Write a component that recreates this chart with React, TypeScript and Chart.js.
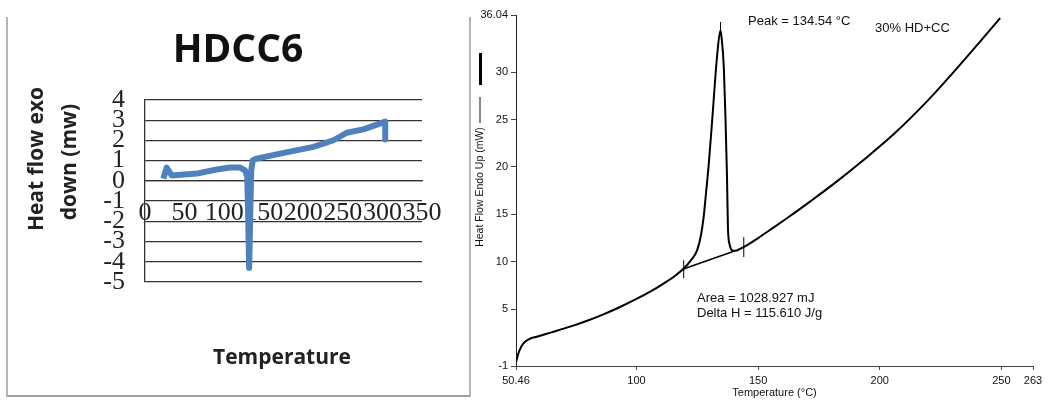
import React, { useEffect, useRef } from "react";
import { Chart, registerables } from "chart.js";

Chart.register(...registerables);

// ---------- Left panel: HDCC6 ----------
const hdccTitle = "HDCC6";
const hdccYTitle = ["Heat flow exo", "down (mw)"];
const hdccXTitle = "Temperature";
const hdccTemperature = [23.2, 27.4, 33.7, 65.3, 90.6, 107.5, 120.1, 126.4, 129.2, 130.5, 131.6, 132.8, 134.2, 136.1, 141.2, 170.7, 212.8, 238.1, 254.9, 276.0, 303.5, 303.5];
const hdccHeatFlow = [0.11, 0.66, 0.27, 0.36, 0.56, 0.66, 0.66, 0.52, 0.2, -2.0, -4.3, -2.0, 0.5, 1.02, 1.1, 1.35, 1.68, 2.01, 2.38, 2.55, 2.93, 2.05];
const hdccXTicks = [0, 50, 100, 150, 200, 250, 300, 350];
const hdccYTicks = [-5, -4, -3, -2, -1, 0, 1, 2, 3, 4];

// ---------- Right panel: DSC 30% HD+CC ----------
const dscTemperature = [50.5, 50.7, 51.8, 53.5, 56, 59, 65, 72.7, 80, 86.4, 93, 100.2, 106, 111.1, 115.5, 119.4, 122.5, 124.9, 126.5, 127.6, 128.3, 129.7, 131.1, 133.2, 134.5, 135.0, 135.9, 136.6, 137.2, 137.6, 138.3, 139.4, 140.8, 142.5, 144.4, 150, 155.1, 163, 171.6, 182, 192.2, 205.9, 219.7, 233.4, 249.5];
const dscHeatFlow = [-0.6, -0.37, 0.6, 1.39, 1.85, 2.09, 2.55, 3.15, 3.8, 4.45, 5.2, 6.1, 6.9, 7.7, 8.45, 9.28, 10.2, 11.2, 12.8, 14.7, 16.5, 20.3, 24.9, 31.9, 34.4, 33.6, 30.5, 25.0, 19.0, 13.5, 11.8, 11.2, 11.15, 11.35, 11.6, 12.5, 13.4, 14.8, 16.4, 18.4, 20.5, 23.5, 27.0, 30.9, 35.7];
const dscXTicks = [50.46, 100, 150, 200, 250, 263];
const dscXTickLabels = ["50.46", "100", "150", "200", "250", "263"];
const dscYTicks = [-1, 5, 10, 15, 20, 25, 30, 36.04];
const dscYTickLabels = ["-1", "5", "10", "15", "20", "25", "30", "36.04"];
const baselineTemperature = [118.7, 140.3];
const baselineHeatFlow = [9.18, 11.14];
const onsetMarkerTemperature = [119.4, 119.4];
const onsetMarkerHeatFlow = [8.26, 10.16];
const peakMarkerTemperature = [134.54, 134.54];
const peakMarkerHeatFlow = [34.2, 35.3];
const endMarkerTemperature = [144.1, 144.1];
const endMarkerHeatFlow = [10.5, 12.6];
const dscXTitle = "Temperature (°C)";
const dscYTitle = "Heat Flow Endo Up (mW)";
const dscPeakText = "Peak = 134.54 °C";
const dscSampleText = "30% HD+CC";
const dscAreaText = "Area = 1028.927 mJ";
const dscDeltaHText = "Delta H = 115.610 J/g";

type TextItem = { text: string; x: number; y: number; font: string; align?: CanvasTextAlign; rotate?: number; color?: string };
type StrokeItem = { x1: number; y1: number; x2: number; y2: number; width: number; color: string };

function makeTextPlugin(id: string, items: TextItem[], strokes: StrokeItem[]) {
  return {
    id,
    afterDraw(chart: any) {
      const ctx: CanvasRenderingContext2D = chart.ctx;
      strokes.forEach((s) => {
        ctx.save();
        ctx.strokeStyle = s.color;
        ctx.lineWidth = s.width;
        ctx.beginPath();
        ctx.moveTo(s.x1, s.y1);
        ctx.lineTo(s.x2, s.y2);
        ctx.stroke();
        ctx.restore();
      });
      items.forEach((it) => {
        ctx.save();
        ctx.font = it.font;
        ctx.fillStyle = it.color || "#000";
        ctx.textAlign = it.align || "center";
        ctx.textBaseline = "middle";
        ctx.translate(it.x, it.y);
        if (it.rotate) ctx.rotate(it.rotate);
        ctx.fillText(it.text, 0, 0);
        ctx.restore();
      });
    },
  };
}

const pts = (xs: number[], ys: number[]) => xs.map((x, i) => ({ x, y: ys[i] }));

function buildLeft(): any {
  const boldFont = "bold 21px 'Open Sans'";
  return {
    type: "line",
    data: {
      datasets: [
        {
          data: pts(hdccTemperature, hdccHeatFlow),
          borderColor: "#4F81BD",
          borderWidth: 6,
          pointRadius: 0,
          borderJoinStyle: "round",
          fill: false,
          tension: 0,
        },
      ],
    },
    options: {
      responsive: false,
      animation: false,
      devicePixelRatio: 1,
      layout: { padding: { left: 0, top: 100, right: 49, bottom: 118 } },
      plugins: { legend: { display: false }, tooltip: { enabled: false }, title: { display: false } },
      scales: {
        x: {
          type: "linear",
          position: { y: 0 },
          min: 0,
          max: 350,
          afterBuildTicks: (s: any) => { s.ticks = hdccXTicks.map((v) => ({ value: v })); },
          grid: { display: false, drawTicks: false },
          border: { display: true, color: "#333", width: 1.3 },
          ticks: { autoSkip: false, maxRotation: 0, padding: 17, color: "#222", font: { family: "'Liberation Serif'", size: 26 } },
        },
        y: {
          type: "linear",
          min: -5,
          max: 4,
          afterBuildTicks: (s: any) => { s.ticks = hdccYTicks.map((v) => ({ value: v })); },
          afterFit: (s: any) => { s.width = 145; },
          grid: { color: "#333", lineWidth: 1.3, drawTicks: false },
          border: { display: true, color: "#333", width: 1.3 },
          ticks: { autoSkip: false, padding: 20, color: "#222", font: { family: "'Liberation Serif'", size: 26 } },
        },
      },
    },
    plugins: [
      makeTextPlugin(
        "hdccText",
        [
          { text: hdccTitle, x: 238, y: 51, font: "bold 39px 'Open Sans'", color: "#111" },
          { text: hdccYTitle[0], x: 37, y: 159, font: boldFont, rotate: -Math.PI / 2, color: "#222" },
          { text: hdccYTitle[1], x: 70, y: 162, font: boldFont, rotate: -Math.PI / 2, color: "#222" },
          { text: hdccXTitle, x: 282, y: 358, font: boldFont, color: "#222" },
        ],
        []
      ),
    ],
  };
}

function buildRight(): any {
  const small = { family: "'Liberation Sans'", size: 11 };
  const blk = (xs: number[], ys: number[], w: number) => ({
    data: pts(xs, ys),
    borderColor: "#000",
    borderWidth: w,
    pointRadius: 0,
    fill: false,
  });
  return {
    type: "line",
    data: {
      datasets: [
        { ...blk(dscTemperature, dscHeatFlow, 2), cubicInterpolationMode: "monotone" },
        blk(baselineTemperature, baselineHeatFlow, 1.6),
        blk(onsetMarkerTemperature, onsetMarkerHeatFlow, 1),
        blk(peakMarkerTemperature, peakMarkerHeatFlow, 1),
        blk(endMarkerTemperature, endMarkerHeatFlow, 1),
      ],
    },
    options: {
      responsive: false,
      animation: false,
      devicePixelRatio: 1,
      layout: { padding: { left: 0, top: 15, right: 18, bottom: 0 } },
      plugins: { legend: { display: false }, tooltip: { enabled: false } },
      scales: {
        x: {
          type: "linear",
          min: 50.46,
          max: 263,
          afterBuildTicks: (s: any) => { s.ticks = dscXTicks.map((v) => ({ value: v })); },
          afterFit: (s: any) => { s.height = 34; },
          grid: { drawOnChartArea: false, drawTicks: true, tickLength: 4, color: "#444" },
          border: { display: true, color: "#444", width: 1 },
          ticks: { autoSkip: false, maxRotation: 0, padding: 4, color: "#111", font: small, callback: (_v: any, i: number) => dscXTickLabels[i] },
          title: { display: true, text: dscXTitle, color: "#111", font: small, padding: { top: 0, bottom: 0 } },
        },
        y: {
          type: "linear",
          min: -1,
          max: 36.04,
          afterBuildTicks: (s: any) => { s.ticks = dscYTicks.map((v) => ({ value: v })); },
          afterFit: (s: any) => { s.width = 45; },
          grid: { drawOnChartArea: false, drawTicks: true, tickLength: 5, color: "#444" },
          border: { display: true, color: "#222", width: 1 },
          ticks: { autoSkip: false, padding: 3, color: "#111", font: small, callback: (_v: any, i: number) => dscYTickLabels[i] },
        },
      },
    },
    plugins: [
      makeTextPlugin(
        "dscText",
        [
          { text: dscYTitle, x: 9, y: 187, font: "10.5px 'Liberation Sans'", rotate: -Math.PI / 2, color: "#111" },
          { text: dscPeakText, x: 277, y: 21, font: "13px 'Liberation Sans'", align: "left", color: "#111" },
          { text: dscSampleText, x: 404, y: 28, font: "13px 'Liberation Sans'", align: "left", color: "#111" },
          { text: dscAreaText, x: 226, y: 298, font: "13px 'Liberation Sans'", align: "left", color: "#111" },
          { text: dscDeltaHText, x: 226, y: 313, font: "13px 'Liberation Sans'", align: "left", color: "#111" },
        ],
        [
          { x1: 9, y1: 97, x2: 9, y2: 123, width: 1, color: "#111" },
          { x1: 9.5, y1: 53, x2: 9.5, y2: 85, width: 3, color: "#000" },
        ]
      ),
    ],
  };
}

function ChartCanvas({ width, height, build }: { width: number; height: number; build: () => any }) {
  const ref = useRef<HTMLCanvasElement>(null);
  useEffect(() => {
    const chart = new Chart(ref.current as HTMLCanvasElement, build());
    return () => chart.destroy();
  }, []);
  return <canvas ref={ref} width={width} height={height} style={{ display: "block", width, height }} />;
}

export default function App() {
  return (
    <div style={{ position: "fixed", left: 0, top: 0, width: 1051, height: 400, background: "#fff", overflow: "hidden" }}>
      <div
        style={{
          position: "absolute",
          left: 6,
          top: 17,
          width: 461,
          height: 378,
          borderLeft: "2px solid #b5b5b5",
          borderRight: "2px solid #b5b5b5",
          borderBottom: "2px solid #a0a0a0",
        }}
      />
      <div style={{ position: "absolute", left: 0, top: 0 }}>
        <ChartCanvas width={471} height={400} build={buildLeft} />
      </div>
      <div style={{ position: "absolute", left: 471, top: 0 }}>
        <ChartCanvas width={580} height={400} build={buildRight} />
      </div>
    </div>
  );
}
